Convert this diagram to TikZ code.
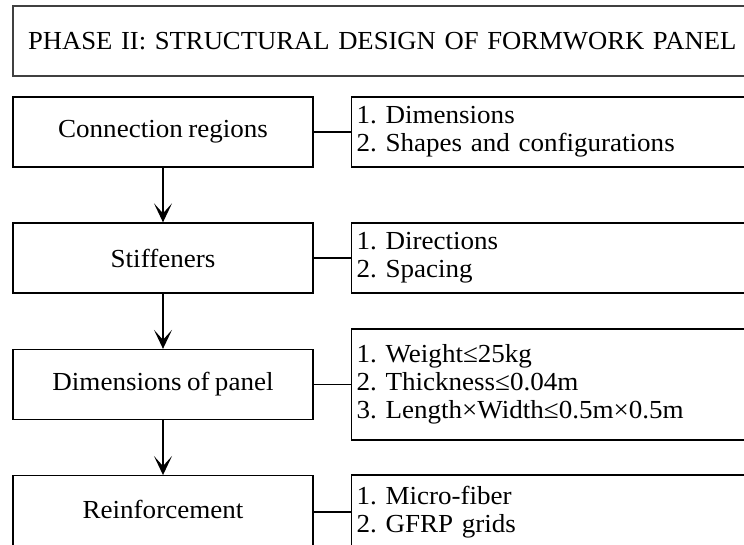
\documentclass[tikz,border=0pt]{standalone}
\usepackage{fontspec}
\setmainfont[FakeStretch=1.04,WordSpace=0.8]{Liberation Serif}
\newfontfamily\titlefont[FakeStretch=1.025,WordSpace=0.8]{Liberation Serif}
\usetikzlibrary{arrows.meta}
\begin{document}
\begin{tikzpicture}[x=1pt,y=1pt,
  txt/.style={font=\fontsize{26}{28}\selectfont\frenchspacing},
  lbox/.style={txt, draw, line width=1.3pt, minimum width=300pt, minimum height=70pt, inner sep=0pt},
  rbox/.style={txt, draw, line width=1.3pt, text width=500pt, align=left, inner xsep=5pt, inner ysep=0pt, anchor=west},
  titlebox/.style={font=\titlefont\fontsize{26}{28}\selectfont\frenchspacing, draw=black!75, line width=2pt, text width=780pt, align=left, inner xsep=15pt, inner ysep=0pt, minimum height=70pt, anchor=north west},
  flow/.style={line width=1.4pt, -{Stealth[length=19pt,width=18pt,inset=10pt]}},
  link/.style={line width=1.3pt}]
\useasboundingbox (0,0) rectangle (744,-545);
\clip (0,0) rectangle (744,-545);
\fill[white] (0,0) rectangle (744,-545);

\node[titlebox] (title) at (12,-5) {PHASE II: STRUCTURAL DESIGN OF FORMWORK PANEL};

\node[lbox] (l1) at (163,-132) {Connection regions};
\node[lbox] (l2) at (163,-258) {Stiffeners};
\node[lbox] (l3) at (163,-384.5) {Dimensions of panel};
\node[lbox, minimum height=72pt] (l4) at (163,-511.7) {\raisebox{5pt}{Reinforcement}};

\node[rbox, minimum height=70pt] (r1) at (351,-132) {1. Dimensions\\2. Shapes and configurations};
\node[rbox, minimum height=70pt] (r2) at (351,-258) {1. Directions\\2. Spacing};
\node[rbox, minimum height=111pt] (r3) at (351,-384.5) {1. Weight≤25kg\\2. Thickness≤0.04m\\3. Length×Width≤0.5m×0.5m};
\node[rbox, minimum height=74pt] (r4) at (351,-512) {1. Micro-fiber\\2. GFRP grids};

\draw[flow] (l1) -- (l2);
\draw[flow] (l2) -- (l3);
\draw[flow] (l3) -- (l4);

\draw[link] (l1.east) -- (r1.west);
\draw[link] (l2.east) -- (r2.west);
\draw[link] (l3.east) -- (r3.west);
\draw[link] (l4.east |- r4.west) -- (r4.west);
\end{tikzpicture}
\end{document}
